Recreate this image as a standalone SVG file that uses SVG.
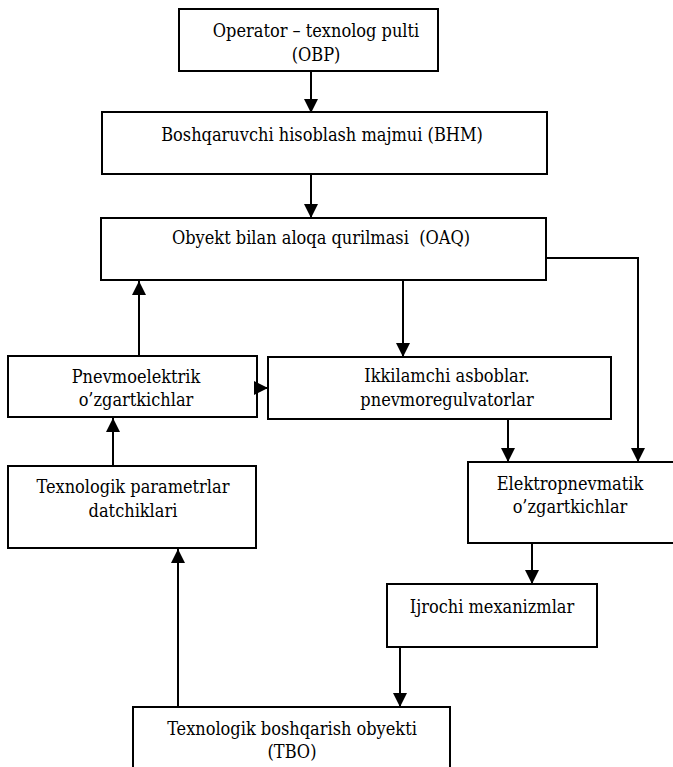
<svg xmlns="http://www.w3.org/2000/svg" width="673" height="767" viewBox="0 0 673 767">
  <style>
    .box { fill: #ffffff; stroke: #000000; stroke-width: 2; }
    .lbl { font-family: 'DejaVu Serif Condensed', 'DejaVu Serif', serif; font-stretch: semi-condensed; font-size: 18px; fill: #000000; text-anchor: middle; }
    .wire { fill: none; stroke: #000000; stroke-width: 2; }
  </style>
  <defs>
    <marker id="head" markerUnits="userSpaceOnUse" markerWidth="14" markerHeight="14" viewBox="0 0 14 14" refX="14" refY="7" orient="auto">
      <path d="M0,0 L14,7 L0,14 Z" fill="#000000"/>
    </marker>
  </defs>
  <rect width="673" height="767" fill="#ffffff"/>

  <g id="obp">
    <rect class="box" x="179" y="9" width="259" height="62"/>
    <text class="lbl" x="316" y="37">Operator – texnolog pulti</text>
    <text class="lbl" x="316" y="61">(OBP)</text>
  </g>
  <g id="bhm">
    <rect class="box" x="102" y="112" width="445" height="62"/>
    <text class="lbl" x="322" y="141">Boshqaruvchi hisoblash majmui (BHM)</text>
  </g>
  <g id="oaq">
    <rect class="box" x="101" y="218" width="445" height="62"/>
    <text class="lbl" x="321" y="244" xml:space="preserve">Obyekt bilan aloqa qurilmasi  (OAQ)</text>
  </g>
  <g id="pnevmoelektrik">
    <rect class="box" x="8" y="356" width="249" height="61"/>
    <text class="lbl" x="136" y="383">Pnevmoelektrik</text>
    <text class="lbl" x="136" y="406">o’zgartkichlar</text>
  </g>
  <g id="ikkilamchi">
    <rect class="box" x="268" y="357" width="343" height="62"/>
    <text class="lbl" x="447" y="382">Ikkilamchi asboblar.</text>
    <text class="lbl" x="447" y="406">pnevmoregulvatorlar</text>
  </g>
  <g id="datchiklar">
    <rect class="box" x="8" y="466" width="248" height="82"/>
    <text class="lbl" x="133" y="493">Texnologik parametrlar</text>
    <text class="lbl" x="133" y="517">datchiklari</text>
  </g>
  <g id="elektropnevmatik">
    <rect class="box" x="468" y="462" width="215" height="81"/>
    <text class="lbl" x="570" y="490">Elektropnevmatik</text>
    <text class="lbl" x="570" y="513">o’zgartkichlar</text>
  </g>
  <g id="ijrochi">
    <rect class="box" x="387" y="584" width="210" height="63"/>
    <text class="lbl" x="492" y="613">Ijrochi mexanizmlar</text>
  </g>
  <g id="tbo">
    <rect class="box" x="133" y="707" width="317" height="75"/>
    <text class="lbl" x="292" y="735">Texnologik boshqarish obyekti</text>
    <text class="lbl" x="292" y="758">(TBO)</text>
  </g>

  <g id="connectors">
    <path class="wire" d="M311,71 V113" marker-end="url(#head)"/>
    <path class="wire" d="M311,175 V218" marker-end="url(#head)"/>
    <path class="wire" d="M403,281 V357" marker-end="url(#head)"/>
    <path class="wire" d="M139,356 V281" marker-end="url(#head)"/>
    <path class="wire" d="M257,388 H268" marker-end="url(#head)"/>
    <path class="wire" d="M546,258 H638 V462" marker-end="url(#head)"/>
    <path class="wire" d="M508,420 V462" marker-end="url(#head)"/>
    <path class="wire" d="M113,466 V418" marker-end="url(#head)"/>
    <path class="wire" d="M178,707 V549" marker-end="url(#head)"/>
    <path class="wire" d="M532,544 V584" marker-end="url(#head)"/>
    <path class="wire" d="M400,648 V707" marker-end="url(#head)"/>
  </g>
</svg>
